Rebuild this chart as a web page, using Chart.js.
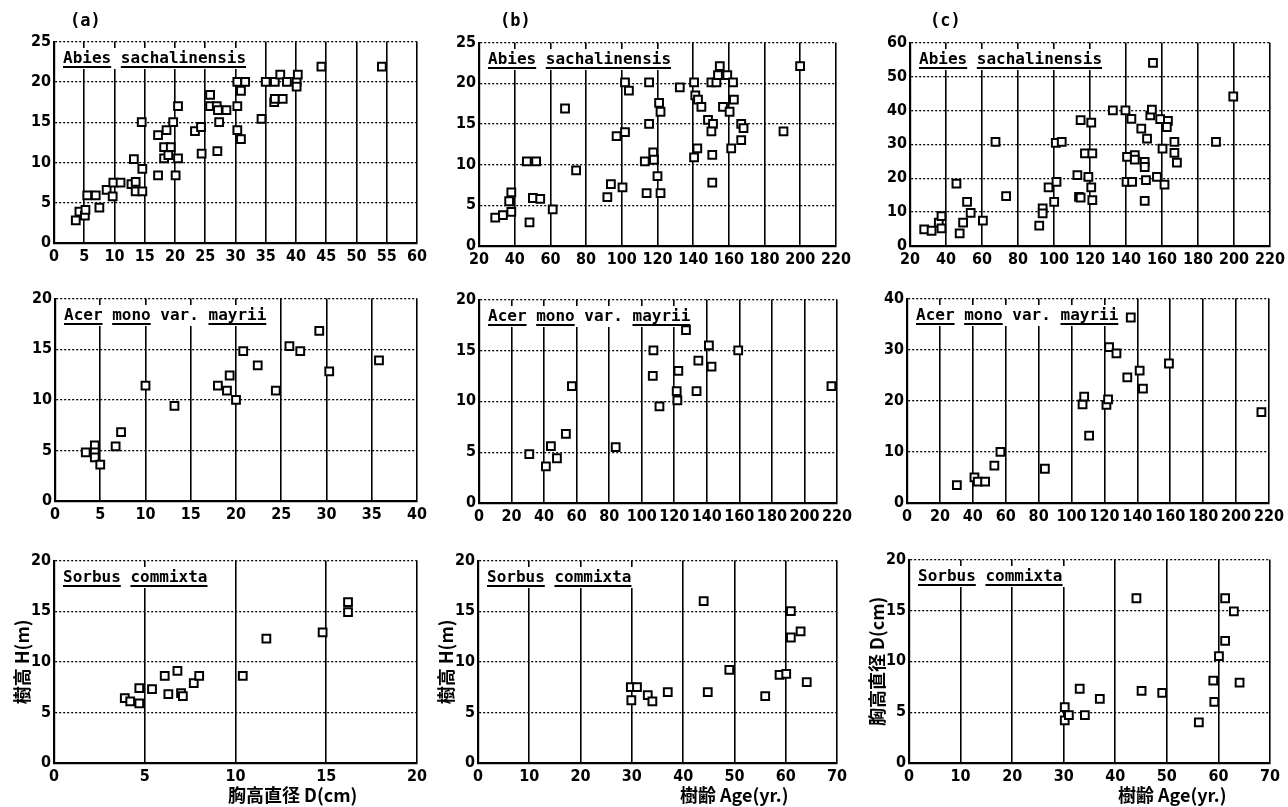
<!DOCTYPE html>
<html>
<head>
<meta charset="utf-8">
<script src="https://cdn.jsdelivr.net/npm/chart.js@4.4.1/dist/chart.umd.min.js"></script>
<style>
body { margin: 0; background: #fff; }
#fig { position: relative; width: 1288px; height: 807px; overflow: hidden; background: #fff; }
canvas { position: absolute; }
.sp { position: absolute; font: bold 16px 'DejaVu Sans Mono', monospace; color: #000; z-index: 2;
      padding: 0 2px 2px 2px; line-height: 18px; white-space: pre; }
.sp u { text-decoration-thickness: 2px; text-underline-offset: 3px; }
.tag { position: absolute; font: bold 17px 'DejaVu Sans Mono', monospace; color: #000; }
.xt { position: absolute; font: bold 18px 'Liberation Sans Narrow', 'Noto Sans CJK JP', sans-serif;
      color: #000; white-space: nowrap; line-height: 20px; }
</style>
</head>
<body>
<div id="fig"></div>
<script>
// ---- data: [x, y] ----
// (a) DBH (cm) vs height (m), (b) age vs height, (c) age vs DBH

const abiesDbhHeight = [
    [3.6, 2.8], [4.2, 3.9], [5.1, 3.4], [5.2, 4.1], [5.5, 5.9], [6.9, 5.9], [7.5, 4.4],
    [8.7, 6.6], [9.7, 5.8], [9.8, 7.5], [11.0, 7.5], [13.2, 10.4], [12.8, 7.3], [13.5, 7.6],
    [13.5, 6.4], [14.6, 6.4], [14.6, 9.2], [14.5, 15.0], [17.2, 8.4], [17.2, 13.4], [18.6, 14.0],
    [19.7, 15.0], [18.2, 11.9], [19.3, 11.9], [18.2, 10.5], [18.9, 10.9], [20.5, 10.5], [20.1, 8.4],
    [20.5, 17.0], [23.3, 13.9], [24.3, 14.4], [24.4, 11.1], [25.8, 18.4], [25.8, 17.0], [26.9, 17.0],
    [27.1, 16.5], [28.5, 16.5], [27.3, 15.0], [27.0, 11.4], [30.3, 20.0], [31.6, 20.0], [30.9, 18.9],
    [30.3, 17.0], [30.3, 14.0], [30.9, 12.9], [34.3, 15.4], [35.0, 20.0], [36.5, 20.0], [36.4, 17.5],
    [36.5, 17.9], [37.8, 17.9], [37.4, 20.9], [38.5, 20.0], [40.1, 20.0], [40.1, 19.4], [40.3, 20.9],
    [44.2, 21.9], [54.2, 21.9]
];

const abiesAgeHeight = [
    [29.1, 3.5], [33.4, 3.8], [38.1, 4.2], [38.1, 6.6], [36.9, 5.5], [46.8, 10.4], [52.0, 10.4],
    [50.2, 5.9], [54.3, 5.8], [48.3, 2.9], [61.3, 4.5], [68.2, 16.9], [74.4, 9.3], [91.9, 6.0],
    [93.9, 7.6], [97.1, 13.5], [100.4, 7.2], [101.8, 14.0], [101.8, 20.1], [104.0, 19.1], [112.9, 10.4],
    [115.3, 15.0], [115.3, 20.1], [117.6, 11.5], [118.0, 10.6], [113.9, 6.5], [120.9, 17.6], [121.7, 16.5],
    [120.0, 8.6], [121.7, 6.5], [132.5, 19.5], [140.5, 20.1], [141.2, 18.5], [142.7, 18.0], [144.6, 17.1],
    [142.3, 12.0], [140.5, 10.9], [148.3, 15.5], [151.1, 15.0], [150.2, 14.1], [150.7, 11.2], [150.7, 7.8],
    [150.2, 20.1], [153.0, 20.1], [153.9, 21.0], [154.9, 22.1], [156.7, 17.1], [159.1, 21.0], [160.4, 16.5],
    [162.3, 20.1], [162.8, 18.0], [161.3, 12.0], [166.9, 15.0], [168.2, 14.5], [166.9, 13.0], [190.6, 14.1],
    [199.9, 22.1]
];

const abiesAgeDbh = [
    [27.9, 4.9], [32.0, 4.5], [36.0, 6.9], [37.5, 8.8], [37.5, 5.2], [45.8, 18.4], [47.6, 3.7],
    [49.5, 6.9], [51.7, 13.0], [53.7, 9.8], [60.5, 7.5], [67.5, 30.7], [73.4, 14.7], [91.8, 6.0],
    [93.7, 11.1], [93.7, 9.6], [97.0, 17.3], [100.1, 13.0], [101.4, 18.9], [101.0, 30.4], [104.3, 30.7],
    [113.0, 20.9], [113.9, 14.5], [114.8, 14.3], [114.8, 37.1], [117.2, 27.3], [119.1, 20.4], [120.7, 17.3],
    [121.3, 13.5], [121.3, 27.3], [120.7, 36.4], [132.7, 40.0], [139.7, 40.0], [143.0, 37.5], [140.6, 26.3],
    [140.3, 18.9], [143.4, 18.9], [144.9, 26.8], [144.9, 25.5], [148.5, 34.6], [151.7, 31.7], [150.4, 24.8],
    [150.4, 23.3], [151.1, 19.4], [150.4, 13.3], [153.5, 38.5], [154.4, 40.2], [155.0, 54.0], [157.2, 20.4],
    [159.0, 37.4], [160.3, 28.7], [161.4, 18.1], [163.3, 36.9], [162.7, 35.1], [166.9, 30.7], [166.9, 27.5],
    [168.3, 24.6], [190.0, 30.7], [199.6, 44.1]
];

const acerDbhHeight = [
    [3.4, 4.8], [4.4, 5.5], [4.4, 4.8], [4.4, 4.3], [5.0, 3.6], [6.7, 5.4], [7.3, 6.8],
    [10.0, 11.4], [13.2, 9.4], [18.0, 11.4], [19.0, 10.9], [19.3, 12.4], [20.0, 10.0], [20.8, 14.8],
    [22.4, 13.4], [24.4, 10.9], [25.9, 15.3], [27.1, 14.8], [29.2, 16.8], [30.3, 12.8], [35.8, 13.9]
];

const acerAgeHeight = [
    [30.9, 4.8], [41.1, 3.6], [44.2, 5.6], [47.9, 4.4], [53.4, 6.8], [57.1, 11.5], [84.0, 5.5],
    [107.2, 15.0], [106.8, 12.5], [110.9, 9.5], [121.5, 11.0], [121.9, 10.1], [122.5, 13.0], [127.2, 17.0],
    [133.7, 11.0], [134.8, 14.0], [141.3, 15.5], [142.9, 13.4], [159.3, 15.0], [216.6, 11.5]
];

const acerAgeDbh = [
    [30.3, 3.5], [41.0, 5.0], [43.0, 4.2], [47.5, 4.2], [53.1, 7.3], [56.8, 10.0], [83.8, 6.7],
    [106.7, 19.3], [107.7, 20.8], [110.7, 13.2], [121.2, 19.2], [122.2, 20.3], [122.8, 30.5], [127.3, 29.3],
    [133.9, 24.6], [136.0, 36.3], [141.4, 25.9], [143.4, 22.4], [159.2, 27.3], [215.4, 17.8]
];

const sorbusDbhHeight = [
    [3.9, 6.4], [4.2, 6.1], [4.7, 5.9], [4.7, 7.4], [5.4, 7.3], [6.1, 8.6], [6.3, 6.8],
    [6.8, 9.1], [7.0, 6.9], [7.1, 6.6], [7.7, 7.9], [8.0, 8.6], [10.4, 8.6], [11.7, 12.3],
    [14.8, 12.9], [16.2, 15.9], [16.2, 14.9]
];

const sorbusAgeHeight = [
    [29.8, 7.5], [31.0, 7.5], [29.9, 6.2], [33.1, 6.7], [34.0, 6.1], [37.0, 7.0], [44.0, 16.0],
    [44.8, 7.0], [49.0, 9.2], [56.0, 6.6], [58.8, 8.7], [60.1, 8.8], [61.0, 15.0], [61.0, 12.4],
    [62.9, 13.0], [64.1, 8.0]
];

const sorbusAgeDbh = [
    [30.2, 5.5], [30.2, 4.2], [31.0, 4.7], [33.1, 7.3], [34.1, 4.7], [37.0, 6.3], [44.1, 16.2],
    [45.1, 7.1], [49.1, 6.9], [56.2, 4.0], [59.0, 8.1], [59.2, 6.0], [60.1, 10.5], [61.3, 12.0],
    [61.3, 16.2], [63.0, 14.9], [64.1, 7.9]
];

const abiesLabel = '<u>Abies</u> <u>sachalinensis</u>';
const acerLabel = '<u>Acer</u> <u>mono</u> var. <u>mayrii</u>';
const sorbusLabel = '<u>Sorbus</u> <u>commixta</u>';

const heightTitle = '樹高 H(m)';
const dbhTitle = '胸高直径 D(cm)';
const ageTitle = '樹齢 Age(yr.)';

// panel layout (plot area in page pixels) and axis ranges [min, max, step]
const panels = [
    { data: abiesDbhHeight, L: 54, R: 417, T: 41, B: 243, x: [0, 60, 5], y: [0, 25, 5], label: abiesLabel },
    { data: abiesAgeHeight, L: 479, R: 837, T: 42, B: 246, x: [20, 220, 20], y: [0, 25, 5], label: abiesLabel },
    { data: abiesAgeDbh, L: 910, R: 1271, T: 42, B: 246, x: [20, 220, 20], y: [0, 60, 10], label: abiesLabel },
    { data: acerDbhHeight, L: 55, R: 417, T: 298, B: 501, x: [0, 40, 5], y: [0, 20, 5], label: acerLabel },
    { data: acerAgeHeight, L: 479, R: 838, T: 299, B: 503, x: [0, 220, 20], y: [0, 20, 5], label: acerLabel },
    { data: acerAgeDbh, L: 907, R: 1270, T: 298, B: 503, x: [0, 220, 20], y: [0, 40, 10], label: acerLabel },
    { data: sorbusDbhHeight, L: 54, R: 417, T: 560, B: 763, x: [0, 20, 5], y: [0, 20, 5], label: sorbusLabel, yTitle: heightTitle },
    { data: sorbusAgeHeight, L: 478, R: 837, T: 560, B: 763, x: [0, 70, 10], y: [0, 20, 5], label: sorbusLabel, yTitle: heightTitle },
    { data: sorbusAgeDbh, L: 909, R: 1270, T: 559, B: 763, x: [0, 70, 10], y: [0, 20, 5], label: sorbusLabel, yTitle: dbhTitle }
];

const tickFont = { family: "'Liberation Sans Narrow', 'DejaVu Sans Condensed', sans-serif", size: 16, weight: 'bold' };
const titleFont = { family: "'Liberation Sans Narrow', 'Noto Sans CJK JP', sans-serif", size: 18, weight: 'bold' };

// white box under the species name: drawn after the grid, before the squares
const labelBox = {
    id: 'labelBox',
    beforeDatasetsDraw(chart, args, opts) {
        const ctx = chart.ctx;
        ctx.save();
        ctx.fillStyle = '#fff';
        ctx.fillRect(opts.x, opts.y, opts.w, opts.h);
        ctx.restore();
    }
};

const fig = document.getElementById('fig');
const PT = 12, PR = 18, XH = 26;

panels.forEach(p => {
    const YW = p.yTitle ? 54 : 40;
    const w = (p.R - p.L) + YW + PR;
    const h = (p.B - p.T) + PT + XH;

    const sp = document.createElement('div');
    sp.className = 'sp';
    sp.innerHTML = p.label;
    sp.style.left = (p.L + 7) + 'px';
    sp.style.top = (p.T + 8) + 'px';
    fig.appendChild(sp);

    const cv = document.createElement('canvas');
    cv.width = w;
    cv.height = h;
    cv.style.left = (p.L - YW) + 'px';
    cv.style.top = (p.T - PT) + 'px';
    fig.appendChild(cv);

    new Chart(cv.getContext('2d'), {
        type: 'scatter',
        data: {
            datasets: [{
                data: p.data.map(d => ({ x: d[0], y: d[1] })),
                pointStyle: 'rect',
                pointRadius: 5.5,
                borderWidth: 2,
                borderColor: '#000',
                backgroundColor: '#fff'
            }]
        },
        plugins: [labelBox],
        options: {
            responsive: false,
            animation: false,
            events: [],
            layout: { padding: { top: PT, right: PR, left: 0, bottom: 0 } },
            plugins: {
                legend: { display: false },
                tooltip: { enabled: false },
                labelBox: { x: YW + 7, y: PT + 7, w: sp.offsetWidth, h: sp.offsetHeight + 1 }
            },
            scales: {
                x: {
                    type: 'linear',
                    min: p.x[0], max: p.x[1],
                    afterFit: s => { s.height = XH; },
                    ticks: { stepSize: p.x[2], color: '#000', font: tickFont, padding: 4, maxRotation: 0, autoSkip: false },
                    grid: { color: '#000', lineWidth: 1.6, drawTicks: false },
                    border: { color: '#000', width: 2.2 }
                },
                y: {
                    min: p.y[0], max: p.y[1],
                    afterFit: s => { s.width = YW; },
                    ticks: { stepSize: p.y[2], color: '#000', font: tickFont, padding: 3 },
                    grid: { color: '#000', lineWidth: 1.3, drawTicks: false },
                    border: { color: '#000', width: 2.2, dash: [2, 2] },
                    title: {
                        display: !!p.yTitle,
                        text: p.yTitle || '',
                        color: '#000',
                        font: titleFont,
                        padding: { top: 11, bottom: 0 }
                    }
                }
            }
        }
    });
});

// panel letters
[['(a)', 70], ['(b)', 500], ['(c)', 930]].forEach(([t, x]) => {
    const d = document.createElement('div');
    d.className = 'tag';
    d.textContent = t;
    d.style.left = x + 'px';
    d.style.top = '10px';
    fig.appendChild(d);
});

// x-axis titles of the bottom row
[[dbhTitle, 228], [ageTitle, 680], [ageTitle, 1118]].forEach(([t, x]) => {
    const d = document.createElement('div');
    d.className = 'xt';
    d.textContent = t;
    d.style.left = x + 'px';
    d.style.top = '784px';
    fig.appendChild(d);
});
</script>
</body>
</html>
